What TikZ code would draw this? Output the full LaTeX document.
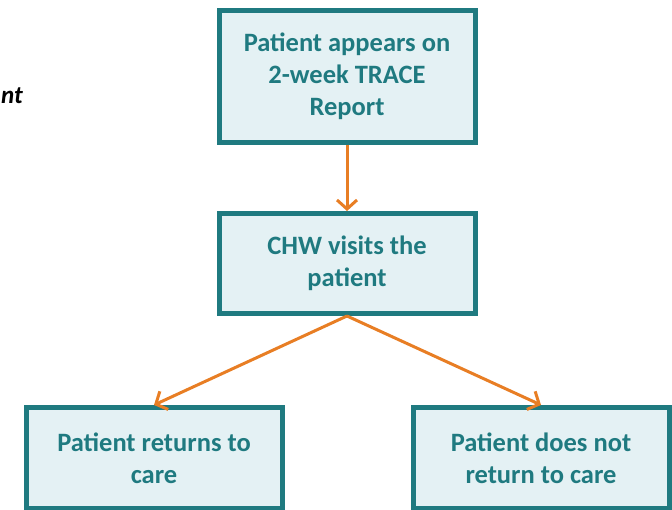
\documentclass[tikz,border=0pt]{standalone}
\usepackage{fontspec}
\setmainfont{Carlito}
\usetikzlibrary{arrows.meta}
\definecolor{tealtext}{HTML}{1F7A80}
\definecolor{boxfill}{HTML}{E4F1F4}
\definecolor{arroworange}{HTML}{E87E24}

\begin{document}
\begin{tikzpicture}[x=1pt,y=-1pt,
  stepbox/.style={draw=tealtext, line width=5pt, fill=boxfill, text=tealtext,
    font=\bfseries\fontsize{26.5}{32}\selectfont, align=center, inner sep=0pt,
    minimum width=256pt},
  link/.style={draw=arroworange, line width=3pt, -{Straight Barb[length=9pt,width=20pt,line width=3pt]}}]
\useasboundingbox (0,0) rectangle (672,510);
\clip (0,0) rectangle (672,510);
\node[font=\bfseries\itshape\fontsize{25}{28}\selectfont, anchor=west, inner sep=0pt] (cut) at (1,96) {nt};
\node[stepbox, minimum height=132pt] at (347,76.5) (n1) {Patient appears on\\2-week TRACE\\Report};
\node[stepbox, minimum height=100pt] at (347,263.5) (n2) {CHW visits the\\patient};
\node[stepbox, minimum height=101pt] at (154,458) (n3) {Patient returns to\\care};
\node[stepbox, minimum height=101pt] at (541,458) (n4) {Patient does not\\return to care};
\draw[link] (n1) -- (n2);
\draw[link] (n2.south) -- (n3.north);
\draw[link] (n2.south) -- (n4.north);
\end{tikzpicture}
\end{document}
